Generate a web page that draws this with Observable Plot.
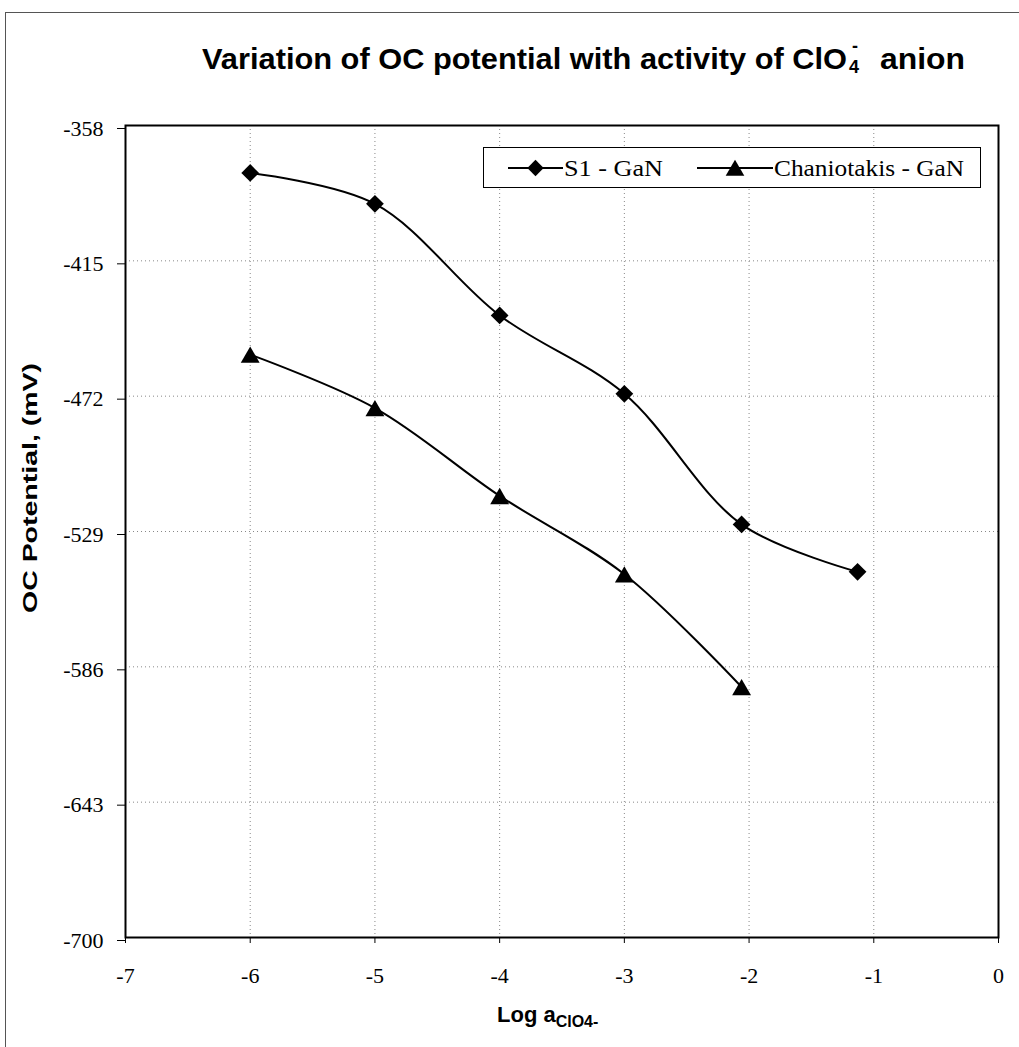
<!DOCTYPE html>
<html>
<head>
<meta charset="utf-8">
<script src="https://cdn.jsdelivr.net/npm/d3@7"></script>
<script src="https://cdn.jsdelivr.net/npm/@observablehq/plot@0.6"></script>
<style>
  body { margin: 0; background: #fff; }
  #wrap { position: relative; width: 1019px; height: 1047px; overflow: hidden; }
  #border { position: absolute; left: 5px; top: 12px; width: 1030px; height: 1050px; border: 1px solid #555; box-sizing: border-box; }
  #chart { position: absolute; left: 0; top: 0; }
  #overlay { position: absolute; left: 0; top: 0; }
</style>
</head>
<body>
<div id="wrap">
  <div id="chart"></div>
  <div id="border"></div>
  <svg id="overlay" width="1019" height="1047"></svg>
</div>
<script>
// Data
const seriesNames = ["S1 - GaN", "Chaniotakis - GaN"];
const s1X = [-6, -5, -4, -3, -2.06, -1.13];
const s1Y = [-378, -391, -438, -471, -526, -546];
const chX = [-6, -5, -4, -3, -2.06];
const chY = [-454.5, -477, -514, -547, -594.5];
const yTicks = [-358, -415, -472, -529, -586, -643, -700];
const xTicks = [-7, -6, -5, -4, -3, -2, -1, 0];
const titleMain = "Variation of OC potential with activity of ClO";
const titleSub = "4";
const titleSup = "-";
const titleEnd = "anion";
const yLabel = "OC Potential, (mV)";
const xLabelMain = "Log a";
const xLabelSub = "ClO4-";

const s1 = s1X.map((x, i) => ({x, y: s1Y[i], s: seriesNames[0]}));
const ch = chX.map((x, i) => ({x, y: chY[i], s: seriesNames[1]}));

const serif = '"Liberation Serif", "Times New Roman", serif';
const sans = '"Liberation Sans", Arial, sans-serif';

const chart = Plot.plot({
  width: 1019,
  height: 1047,
  marginLeft: 125,
  marginRight: 21,
  marginTop: 125,
  marginBottom: 110,
  style: {fontFamily: serif, fontSize: "22px", color: "#000", background: "transparent"},
  x: {domain: [-7, 0]},
  y: {domain: [-700, -358]},
  marks: [
    Plot.gridX(xTicks, {stroke: "#888", strokeOpacity: 1, strokeDasharray: "1,3", strokeWidth: 1}),
    Plot.gridY(yTicks, {stroke: "#888", strokeOpacity: 1, strokeDasharray: "1,3", strokeWidth: 1}),
    Plot.frame({stroke: "#000", strokeWidth: 2}),
    Plot.axisX({ticks: xTicks, tickFormat: d => String(d), tickSize: 6, tickPadding: 24, label: null, fontSize: 22}),
    Plot.axisY({ticks: yTicks, tickFormat: d => String(d), tickSize: 8, tickPadding: 14, dy: 3, label: null, fontSize: 22}),
    Plot.line(s1, {x: "x", y: "y", curve: "catmull-rom", stroke: "#000", strokeWidth: 2}),
    Plot.line(ch, {x: "x", y: "y", curve: "catmull-rom", stroke: "#000", strokeWidth: 2}),
    Plot.dot(s1, {x: "x", y: "y", symbol: "diamond2", r: 8, fill: "#000", stroke: "none"}),
    Plot.dot(ch, {x: "x", y: "y", symbol: "triangle", r: 7, dy: 2.8, fill: "#000", stroke: "none"})
  ]
});
document.getElementById("chart").appendChild(chart);

// Text overlay: title, axis labels, legend
const ov = d3.select("#overlay");
const t = ov.append("g").attr("font-family", sans).attr("font-weight", "bold").attr("fill", "#000");
t.append("text").attr("x", 202).attr("y", 69).attr("font-size", 30)
  .attr("textLength", 645).attr("lengthAdjust", "spacingAndGlyphs").text(titleMain);
t.append("text").attr("x", 849).attr("y", 73).attr("font-size", 18).text(titleSub);
t.append("text").attr("x", 852).attr("y", 52).attr("font-size", 18).text(titleSup);
t.append("text").attr("x", 880).attr("y", 69).attr("font-size", 30)
  .attr("textLength", 85).attr("lengthAdjust", "spacingAndGlyphs").text(titleEnd);

// y-axis label (rotated)
t.append("text").attr("transform", "translate(37,613) rotate(-90)").attr("font-size", 21)
  .attr("textLength", 250).attr("lengthAdjust", "spacingAndGlyphs").text(yLabel);

// x-axis label with subscript
const xl = t.append("text").attr("x", 497).attr("y", 1022).attr("font-size", 22);
xl.append("tspan").text(xLabelMain);
xl.append("tspan").attr("dy", 5).attr("font-size", 16).text(xLabelSub);

// Legend
const lg = ov.append("g").attr("transform", "translate(483,147)");
lg.append("rect").attr("x", 0.5).attr("y", 0.5).attr("width", 497).attr("height", 40)
  .attr("fill", "#fff").attr("stroke", "#000").attr("stroke-width", 1);
const items = [
  {name: seriesNames[0], x0: 25, len: 55, sym: d3.symbolDiamond2, size: 170, dy: 0, tx: 81, tl: 99},
  {name: seriesNames[1], x0: 214, len: 76, sym: d3.symbolTriangle, size: 150, dy: 2.5, tx: 291, tl: 190}
];
items.forEach(it => {
  lg.append("line").attr("x1", it.x0).attr("x2", it.x0 + it.len).attr("y1", 21).attr("y2", 21)
    .attr("stroke", "#000").attr("stroke-width", 2);
  lg.append("path").attr("d", d3.symbol(it.sym, it.size)())
    .attr("transform", `translate(${it.x0 + it.len / 2},${21 + it.dy})`).attr("fill", "#000");
  lg.append("text").attr("x", it.tx).attr("y", 29).text(it.name)
    .attr("font-family", serif).attr("font-size", 23)
    .attr("textLength", it.tl).attr("lengthAdjust", "spacingAndGlyphs");
});
</script>
</body>
</html>
